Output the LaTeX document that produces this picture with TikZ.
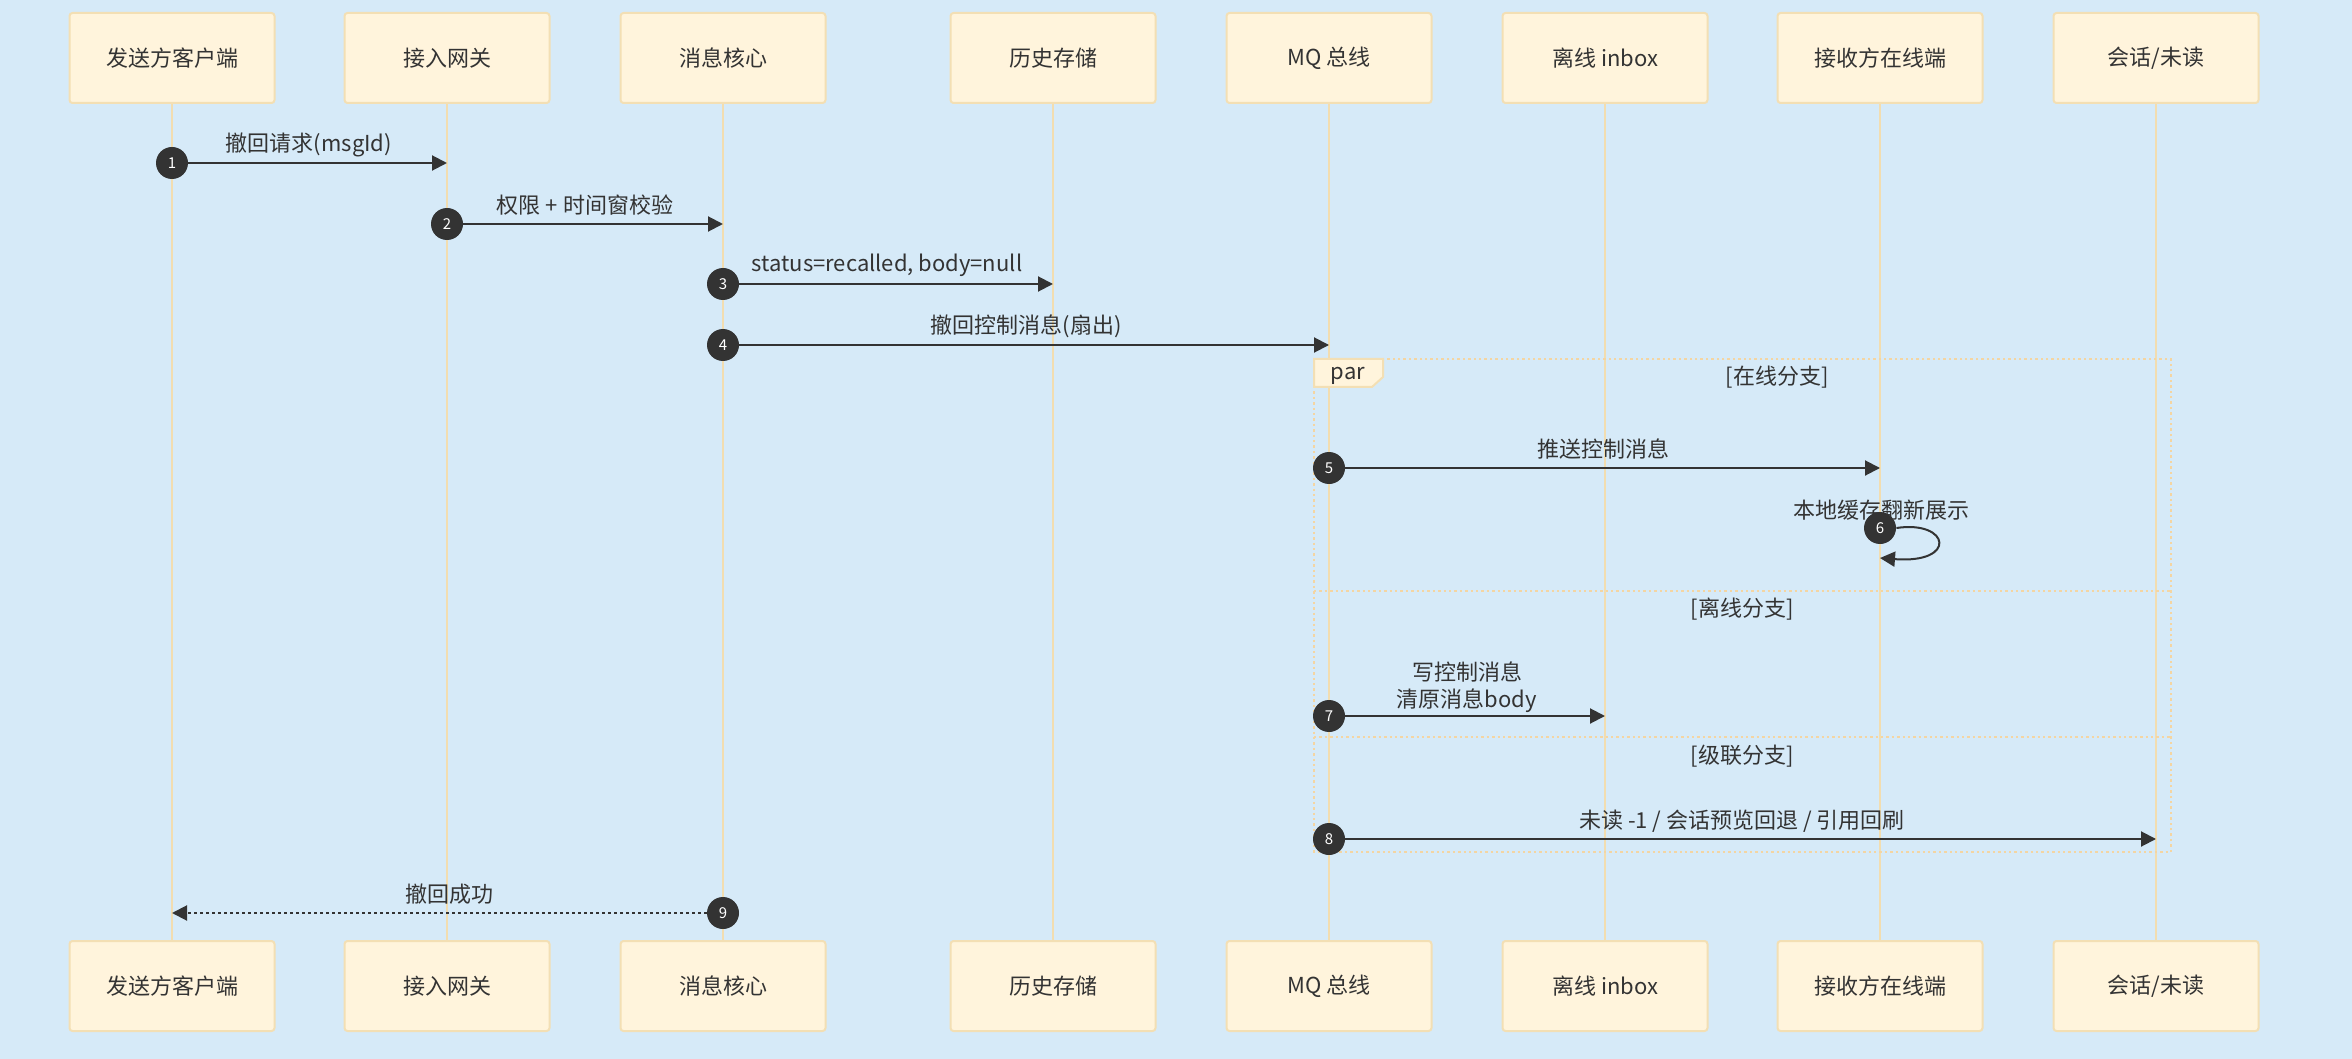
\documentclass[tikz,border=0pt]{standalone}
\usepackage{fontspec}
\setmainfont{Noto Sans CJK SC}
\usetikzlibrary{arrows.meta}

\definecolor{bgblue}{HTML}{D6EAF8}
\definecolor{boxfill}{HTML}{FFF4DC}
\definecolor{boxline}{HTML}{F3DFB4}
\definecolor{lifeline}{HTML}{F2DDB0}
\definecolor{inkgray}{HTML}{333333}

\begin{document}
\begin{tikzpicture}[x=0.5pt,y=-0.5pt,
  actor/.style={draw=boxline,fill=boxfill,line width=1pt,rounded corners=1.5pt,
    minimum width=102.5pt,minimum height=45pt,text=inkgray,font=\fontsize{11}{13}\selectfont},
  life/.style={draw=lifeline,line width=1pt},
  msg/.style={draw=inkgray,line width=1pt,-{Triangle[length=7.5pt,width=7.5pt]}},
  num/.style={circle,fill=inkgray,text=white,inner sep=0pt,minimum size=16pt,
    font=\fontsize{7.5}{8}\selectfont},
  lbl/.style={text=inkgray,font=\fontsize{11}{13.5}\selectfont},
  frame/.style={draw=boxline!90!orange,line width=1pt,dash pattern=on 1.2pt off 1.5pt}]

% Background and page size
\fill[bgblue] (0,0) rectangle (2352,1059);
\useasboundingbox (0,0) rectangle (2352,1059);

% Participants with lifelines
\foreach \name/\x/\txt in {sender/172/{发送方客户端}, gateway/447/{接入网关},
    core/723/{消息核心}, history/1053/{历史存储}, mq/1329/{MQ 总线},
    inbox/1605/{离线 inbox}, receiver/1880/{接收方在线端}, session/2156/{会话/未读}} {
  \draw[life] (\x,103) -- (\x,942);
  \node[actor] (t-\name) at (\x,58) {\txt};
  \node[actor] (b-\name) at (\x,986) {\txt};
}

% par frame and its branches
\coordinate (par-nw) at (1314,359);
\coordinate (par-se) at (2171,852);
\draw[frame] (par-nw) rectangle (par-se);
\draw[frame] (1314,591) -- (2171,591);
\draw[frame] (1314,737) -- (2171,737);
\draw[draw=boxline,fill=boxfill,line width=1pt] (1314,359) -- (1383,359) -- (1383,377) -- (1372,387) -- (1314,387) -- cycle;
\node[lbl] (par-tag) at (1348,376) {par};
\node[lbl] (br-online) at (1777,377) {[在线分支]};
\node[lbl] (br-offline) at (1742,609) {[离线分支]};
\node[lbl] (br-cascade) at (1742,756) {[级联分支]};

% Sequence numbers
\node[num] (n1) at (172,163) {1};
\node[num] (n2) at (447,224) {2};
\node[num] (n3) at (723,284) {3};
\node[num] (n4) at (723,345) {4};
\node[num] (n5) at (1329,468) {5};
\node[num] (n7) at (1329,716) {7};
\node[num] (n8) at (1329,839) {8};
\node[num] (n9) at (723,913) {9};

% Messages
\draw[msg] (n1) -- (t-gateway |- n1);
\node[lbl] (m1) at (309,145) {撤回请求(msgId)};
\draw[msg] (n2) -- (t-core |- n2);
\node[lbl] (m2) at (585,205) {权限 + 时间窗校验};
\draw[msg] (n3) -- (t-history |- n3);
\node[lbl] (m3) at (887,265) {status=recalled, body=null};
\draw[msg] (n4) -- (t-mq |- n4);
\node[lbl] (m4) at (1026,326) {撤回控制消息(扇出)};
\draw[msg] (n5) -- (t-receiver |- n5);
\node[lbl] (m5) at (1603,449) {推送控制消息};

% Self call on the receiver
\node[lbl] (m6) at (1881,510) {本地缓存翻新展示};
\node[num] (n6) at (1880,528) {6};
\coordinate (back6) at (1880,558);
\draw[msg] (n6.east) .. controls (1950,520) and (1958,564) .. (back6);

\draw[msg] (n7) -- (t-inbox |- n7);
\node[lbl,align=center] (m7) at (1467,687) {写控制消息\\清原消息body};
\draw[msg] (n8) -- (t-session |- n8);
\node[lbl] (m8) at (1742,821) {未读 -1 / 会话预览回退 / 引用回刷};
\draw[msg,dash pattern=on 1.5pt off 1.5pt] (n9) -- (t-sender |- n9);
\node[lbl] (m9) at (449,894) {撤回成功};

\end{tikzpicture}
\end{document}
